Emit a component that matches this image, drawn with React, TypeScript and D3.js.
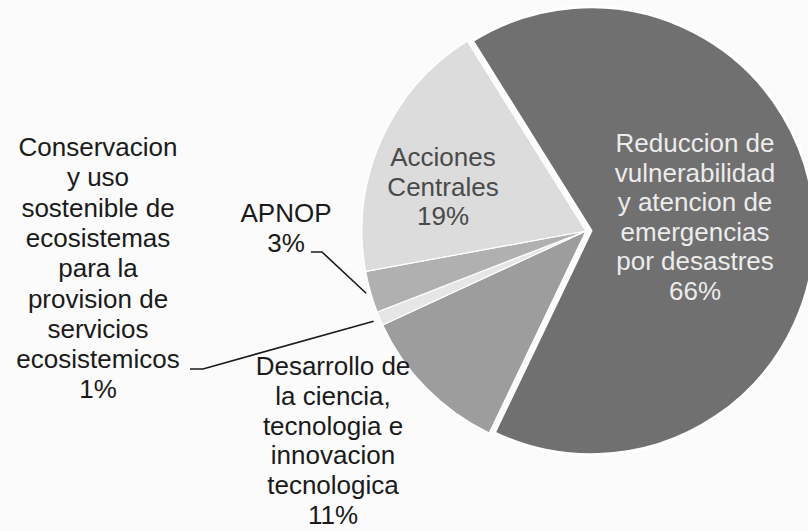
import React, { useEffect, useRef } from 'react';
import * as d3 from 'd3';

// Budget shares (%), clockwise from the top-right
const categories = [
  'Reduccion de vulnerabilidad y atencion de emergencias por desastres',
  'Desarrollo de la ciencia, tecnologia e innovacion tecnologica',
  'Conservacion y uso sostenible de ecosistemas para la provision de servicios ecosistemicos',
  'APNOP',
  'Acciones Centrales',
];
const values = [66, 11, 1, 3, 19];
const sliceColors = ['#707070', '#9d9d9d', '#e6e6e6', '#b0b0b0', '#dcdcdc'];

// label lines for each slice (same order as categories)
const labelLines = [
  ['Reduccion de', 'vulnerabilidad', 'y atencion de', 'emergencias', 'por desastres', '66%'],
  ['Desarrollo de', 'la ciencia,', 'tecnologia e', 'innovacion', 'tecnologica', '11%'],
  ['Conservacion', 'y uso', 'sostenible de', 'ecosistemas', 'para la', 'provision de', 'servicios', 'ecosistemicos', '1%'],
  ['APNOP', '3%'],
  ['Acciones', 'Centrales', '19%'],
];

const W = 808;
const H = 531;

export default function App() {
  const svgRef = useRef<SVGSVGElement>(null);

  useEffect(() => {
    if (!svgRef.current) return;
    const svg = d3.select(svgRef.current);
    svg.selectAll('*').remove();

    const cx = 586;
    const cy = 231;
    const r = 224;
    const startDeg = -32;

    svg.append('rect').attr('width', W).attr('height', H).attr('fill', '#fbfbfb');

    const pie = d3.pie<number>()
      .sort(null)
      .value(d => d)
      .startAngle(startDeg * Math.PI / 180)
      .endAngle((startDeg + 360) * Math.PI / 180);

    const arcs = pie(values);
    const arc = d3.arc<d3.PieArcDatum<number>>().innerRadius(0).outerRadius(r);

    const g = svg.append('g').attr('transform', `translate(${cx},${cy})`);

    // explode the largest slice a little
    const explode = (d: d3.PieArcDatum<number>, i: number) => {
      if (i !== 0) return [0, 0];
      const mid = (d.startAngle + d.endAngle) / 2;
      return [Math.sin(mid) * 5, -Math.cos(mid) * 5];
    };

    g.selectAll('path')
      .data(arcs)
      .join('path')
      .attr('d', arc as any)
      .attr('transform', (d, i) => `translate(${explode(d, i).join(',')})`)
      .attr('fill', (d, i) => sliceColors[i])
      .attr('stroke', '#ffffff')
      .attr('stroke-width', (d, i) => (i === 0 ? 3 : 1.2))
      .attr('stroke-linejoin', 'round');

    const font = '"Liberation Sans", Arial, sans-serif';
    const fontSize = 26;

    // label layout: [center x, first baseline, line step, colour]
    const labelPos: [number, number, number, string][] = [
      [695, 152, 29.6, '#ececec'],
      [333, 375, 29.8, '#1a1a1a'],
      [98, 156, 30.3, '#1a1a1a'],
      [286, 222, 30, '#1a1a1a'],
      [443, 166, 29.5, '#4a4a4a'],
    ];

    labelLines.forEach((lines, i) => {
      const [x, y0, step, col] = labelPos[i];
      const t = svg.append('text')
        .attr('x', x)
        .attr('y', y0)
        .attr('text-anchor', 'middle')
        .attr('font-family', font)
        .attr('font-size', fontSize)
        .attr('fill', col);
      lines.forEach((ln, j) => {
        t.append('tspan').attr('x', x).attr('y', y0 + j * step).text(ln);
      });
    });

    // leader lines for the small slices
    const edgePoint = (d: d3.PieArcDatum<number>, k: number) => {
      const mid = (d.startAngle + d.endAngle) / 2;
      return [cx + Math.sin(mid) * r * k, cy - Math.cos(mid) * r * k];
    };
    const leaders: { idx: number; from: [number, number]; elbow: [number, number]; k: number }[] = [
      { idx: 3, from: [311, 252], elbow: [322, 252], k: 1.02 },
      { idx: 2, from: [190, 369], elbow: [203, 369], k: 1.03 },
    ];
    leaders.forEach(l => {
      const p = edgePoint(arcs[l.idx], l.k);
      svg.append('path')
        .attr('d', d3.line()([l.from, l.elbow, p as [number, number]]) as string)
        .attr('fill', 'none')
        .attr('stroke', '#1a1a1a')
        .attr('stroke-width', 1.6);
    });
  }, []);

  return (
    <div style={{ position: 'fixed', left: 0, top: 0, width: W, height: H, background: '#fbfbfb' }}>
      <svg ref={svgRef} width={W} height={H}></svg>
    </div>
  );
}
